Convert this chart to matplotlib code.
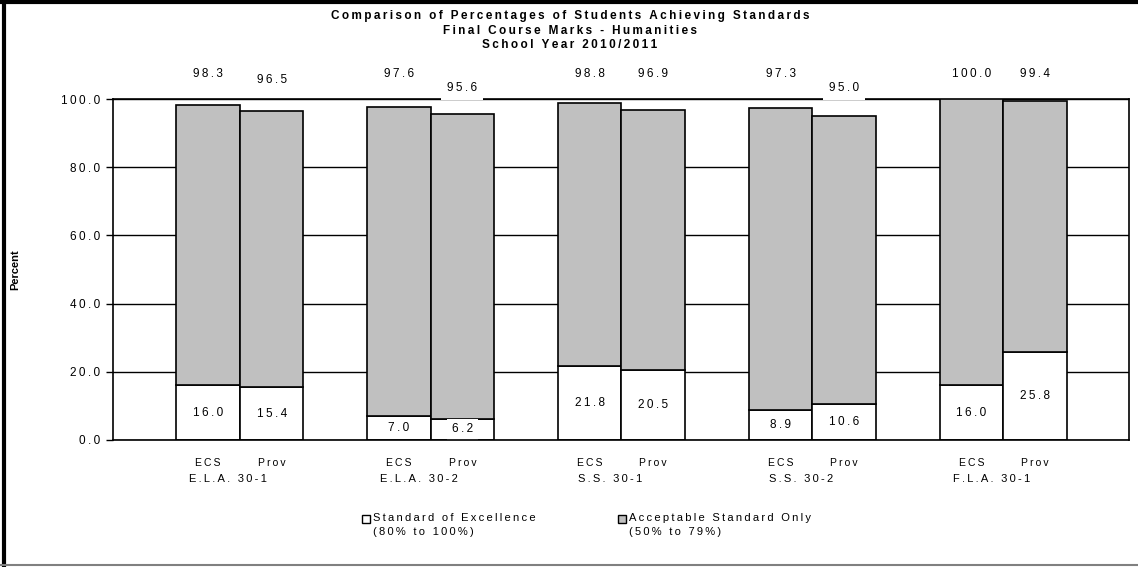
import matplotlib
matplotlib.use("Agg")
import matplotlib.pyplot as plt
import matplotlib.transforms as mtransforms
from matplotlib.patches import Rectangle
from matplotlib.lines import Line2D
import numpy as np

plt.rcParams['font.family'] = ['Liberation Sans', 'DejaVu Sans']

courses = ["E.L.A. 30-1", "E.L.A. 30-2", "S.S. 30-1", "S.S. 30-2", "F.L.A. 30-1"]
series = ["ECS", "Prov"]
ecs_total = [98.3, 97.6, 98.8, 97.3, 100.0]
prov_total = [96.5, 95.6, 96.9, 95.0, 99.4]
ecs_excel = [16.0, 7.0, 21.8, 8.9, 16.0]
prov_excel = [15.4, 6.2, 20.5, 10.6, 25.8]
yticks = [0, 20, 40, 60, 80, 100]
title_lines = ["Comparison of Percentages of Students Achieving Standards",
               "Final Course Marks - Humanities",
               "School Year 2010/2011"]
legend_labels = [("Standard of Excellence", "(80% to 100%)"),
                 ("Acceptable Standard Only", "(50% to 79%)")]

GRAY = "#c0c0c0"
SP = "\u2009"


def spaced(s):
    return SP.join(list(s))


W, H = 1138, 567
fig = plt.figure(figsize=(W / 100, H / 100), dpi=100)
ax = fig.add_axes([113 / W, 1 - 440 / H, (1129 - 113) / W, (440 - 99) / H])

x = np.arange(len(courses))
bw = 0.333
xs = [x - bw / 2, x + bw / 2]
totals = [ecs_total, prov_total]
excels = [ecs_excel, prov_excel]

for gi in range(2):
    exc = np.array(excels[gi])
    tot = np.array(totals[gi])
    acc = tot - exc
    ax.bar(xs[gi], exc, width=bw, color="white", edgecolor="black", linewidth=1.2, zorder=3)
    ax.bar(xs[gi], acc, bottom=exc, width=bw, color=GRAY, edgecolor="black", linewidth=1.2, zorder=3)
    for xi, e, t in zip(xs[gi], exc, tot):
        ax.text(xi, e / 2, spaced(f"{e:.1f}"), ha="center", va="center", fontsize=8.5, zorder=5,
                bbox=dict(boxstyle="square,pad=0.4", facecolor="white", edgecolor="none") if e < 6.5 else None)
        if t >= 96.8:
            ly = 107.2
            bb = None
        elif t >= 96.0:
            ly = 105.6
            bb = None
        else:
            ly = 103.3
            bb = dict(boxstyle="square,pad=0.5", facecolor="white", edgecolor="none")
        ax.text(xi, ly, spaced(f"{t:.1f}"), ha="center", va="center", fontsize=8.5, zorder=5,
                clip_on=False, bbox=bb)

ax.set_xlim(-0.665, len(courses) - 1 + 0.66)
ax.set_ylim(0, 100)
ax.set_yticks(yticks)
ax.set_yticklabels([spaced(f"{v:.1f}") for v in yticks], fontsize=8.5)
ax.yaxis.grid(True, color="black", linewidth=1.0, zorder=0)
ax.set_axisbelow(True)
ax.set_xticks([])
ax.tick_params(axis="y", direction="out", length=5, width=1, pad=4)
for name, s in ax.spines.items():
    s.set_linewidth(1.2)
    s.set_color("black")
    if name != "top":
        s.set_zorder(6)

trans = mtransforms.blended_transform_factory(ax.transData, ax.transAxes)
for gi in range(2):
    for xi in xs[gi]:
        ax.text(xi, -0.066, spaced(series[gi]), transform=trans, ha="center", va="center", fontsize=7.5)
for xi, c in zip(x, courses):
    ax.text(xi - 0.06, -0.113, spaced(c), transform=trans, ha="center", va="center", fontsize=8)

for i, (line, yy) in enumerate(zip(title_lines, [16, 31, 45])):
    fig.text(570 / W, 1 - yy / H, spaced(line), ha="center", va="center", fontsize=8.5, fontweight="bold")

fig.text(15 / W, 1 - 270 / H, "Percent", rotation=90, ha="center", va="center", fontsize=8, fontweight="bold")

# legend
for (l1, l2), lx, col in zip(legend_labels, [362, 618], ["white", GRAY]):
    fig.patches.append(Rectangle((lx / W, 1 - 523 / H), 8 / W, 8 / H, transform=fig.transFigure,
                                 facecolor=col, edgecolor="black", linewidth=1.0))
    fig.text((lx + 11) / W, 1 - 518 / H, spaced(l1), ha="left", va="center", fontsize=8)
    fig.text((lx + 11) / W, 1 - 532 / H, spaced(l2), ha="left", va="center", fontsize=8)

# figure frame
fig.lines.append(Line2D([3.5 / W, 3.5 / W], [0, 1], transform=fig.transFigure, color="black", linewidth=3))
fig.lines.append(Line2D([0, 1], [1 - 2 / H, 1 - 2 / H], transform=fig.transFigure, color="black", linewidth=3))
fig.lines.append(Line2D([0, 1], [1 - 565 / H, 1 - 565 / H], transform=fig.transFigure, color="#808080", linewidth=1.5))

fig.savefig("out.png", dpi=100)
